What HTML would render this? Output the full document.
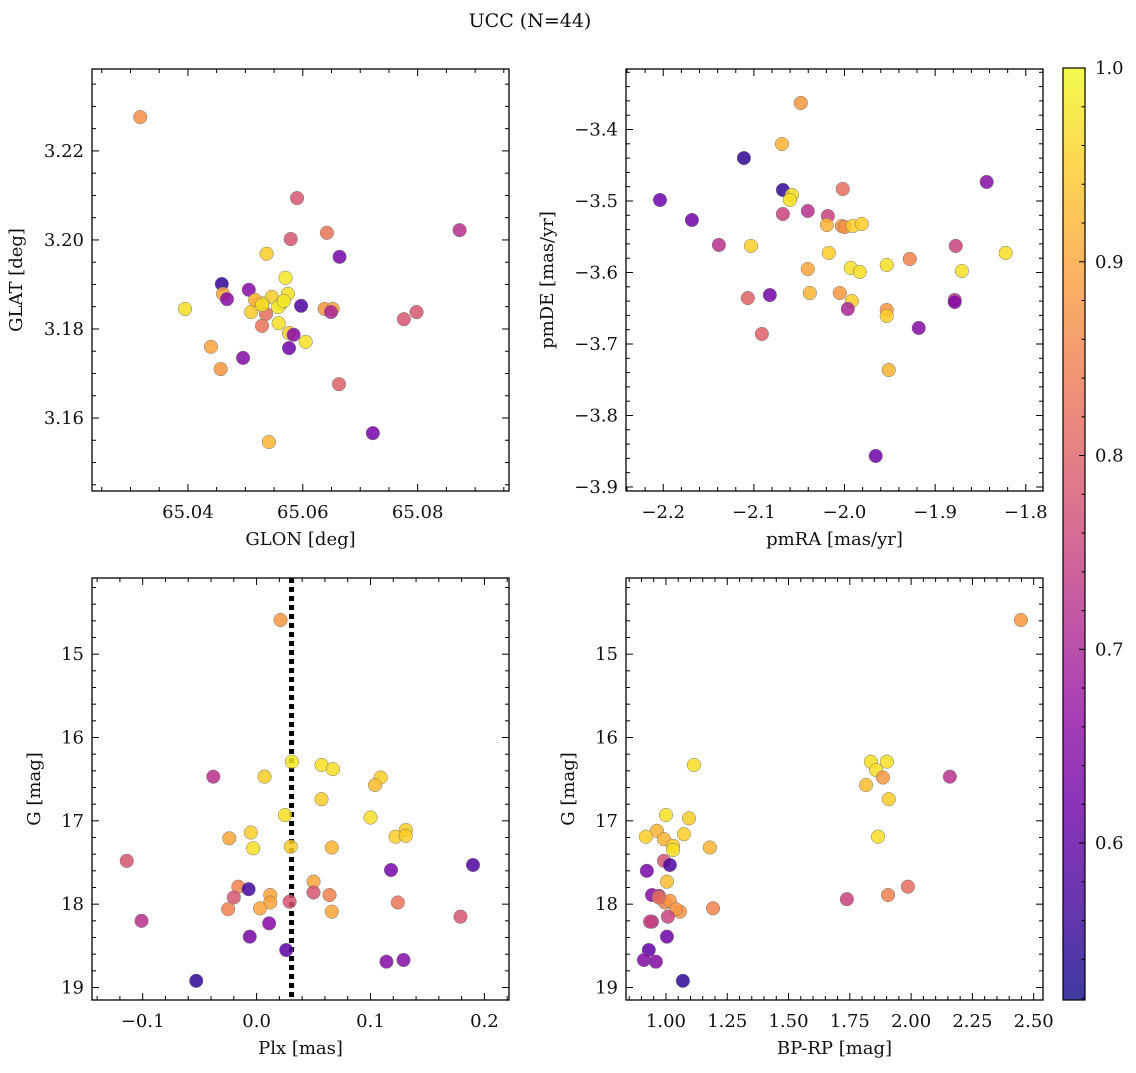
<!DOCTYPE html>
<html><head><meta charset="utf-8"><style>
body{margin:0;background:#fff}
svg text{font-family:"DejaVu Serif","Liberation Serif",serif;fill:#111}
</style></head><body>
<svg id="fig" width="1136" height="1068" viewBox="0 0 1136 1068" xmlns="http://www.w3.org/2000/svg">
<defs><linearGradient id="cbg" x1="0" y1="1" x2="0" y2="0"></linearGradient></defs>
<text x="530" y="27" font-size="19" text-anchor="middle">UCC (N=44)</text>
</svg>
<script>
// ---- data ----
const glon=[65.0317,65.0590,65.0873,65.0642,65.0579,65.0537,65.0664,65.0570,65.0459,65.0461,65.0574,65.0506,65.0468,65.0546,65.0395,65.0597,65.0530,65.0563,65.0522,65.0557,65.0567,65.0638,65.0652,65.0649,65.0510,65.0536,65.0529,65.0558,65.0776,65.0798,65.0576,65.0584,65.0605,65.0440,65.0576,65.0496,65.0457,65.0663,65.0541,65.0722,65.0517,65.0529];
const glat=[3.2276,3.2094,3.2022,3.2016,3.2002,3.1969,3.1962,3.1915,3.1901,3.1879,3.1879,3.1888,3.1867,3.1872,3.1845,3.1852,3.1858,3.1858,3.1856,3.1849,3.1863,3.1845,3.1845,3.1838,3.1838,3.1834,3.1807,3.1813,3.1822,3.1838,3.1791,3.1787,3.1771,3.1760,3.1757,3.1735,3.1710,3.1676,3.1546,3.1566,3.1865,3.1854];
const probA=[.87,.78,.72,.83,.78,.95,.63,.98,.55,.9,.97,.65,.65,.95,.97,.58,.98,.98,.9,.98,.98,.88,.9,.7,.95,.82,.83,.97,.78,.78,.95,.65,.97,.9,.62,.65,.88,.8,.92,.63,.92,.97];
const pmra=[-2.0482,-2.0690,-2.1110,-2.2036,-2.1684,-2.0680,-2.0581,-2.0603,-2.0019,-1.8431,-2.1386,-2.0405,-2.0680,-2.0184,-2.0195,-2.0030,-1.9997,-1.9909,-1.9810,-2.1033,-2.0173,-1.8773,-1.9280,-1.9931,-1.9832,-1.9534,-1.8705,-1.8222,-2.0405,-2.0383,-2.0052,-1.9920,-1.8784,-1.8784,-1.9534,-1.9534,-2.1067,-2.0824,-1.9964,-1.9181,-2.0912,-1.9512,-1.9656];
const pmde=[-3.3629,-3.4203,-3.4399,-3.4986,-3.5266,-3.4846,-3.4916,-3.4986,-3.4832,-3.4734,-3.5615,-3.5140,-3.5182,-3.5210,-3.5336,-3.5350,-3.5364,-3.5350,-3.5322,-3.5629,-3.5727,-3.5629,-3.5811,-3.5937,-3.5993,-3.5895,-3.5979,-3.5727,-3.5951,-3.6287,-3.6287,-3.6399,-3.6385,-3.6413,-3.6524,-3.6608,-3.6357,-3.6315,-3.6510,-3.6776,-3.6860,-3.7364,-3.8566];
const probB=[.88,.92,.55,.62,.62,.55,.97,.97,.82,.65,.72,.72,.75,.75,.92,.87,.87,.95,.95,.95,.95,.75,.85,.97,.97,.97,.97,.97,.9,.92,.88,.95,.72,.65,.88,.95,.8,.63,.7,.65,.8,.92,.62];
const plx=[.021,.031,.057,.067,-.038,.007,.109,.104,.057,.025,.100,.131,.122,.131,-.005,-.024,.030,.066,-.003,-.114,.118,.190,.050,-.016,-.007,.064,.050,-.020,.012,.012,-.025,.003,.029,.066,.124,.179,-.101,.011,-.006,.026,.114,.129,-.053];
const gmagC=[14.59,16.29,16.33,16.38,16.47,16.47,16.48,16.57,16.74,16.93,16.96,17.11,17.19,17.18,17.14,17.21,17.31,17.32,17.33,17.48,17.59,17.53,17.73,17.79,17.82,17.89,17.86,17.92,17.89,17.98,18.06,18.05,17.97,18.09,17.98,18.15,18.20,18.23,18.39,18.55,18.69,18.67,18.92];
const probC=[.88,.98,.97,.97,.72,.95,.95,.93,.95,.97,.97,.95,.95,.95,.95,.9,.95,.92,.97,.78,.63,.58,.9,.85,.57,.85,.78,.78,.9,.9,.85,.9,.78,.9,.83,.78,.72,.65,.63,.6,.65,.65,.55];
const bprp=[2.448,1.114,1.836,1.901,1.857,1.885,2.158,1.816,1.909,1.000,1.094,0.963,1.073,0.918,1.865,0.992,1.029,1.029,1.179,0.992,1.016,0.922,1.004,0.943,0.971,1.987,1.906,0.996,1.016,0.971,1.738,1.192,1.057,1.041,1.008,0.943,0.935,1.004,0.930,0.910,0.959,1.069];
const gmagD=[14.59,16.33,16.29,16.29,16.39,16.48,16.47,16.57,16.74,16.93,16.97,17.12,17.16,17.19,17.19,17.22,17.30,17.35,17.32,17.48,17.53,17.60,17.73,17.89,17.90,17.79,17.89,17.98,17.96,17.92,17.94,18.05,18.09,18.06,18.15,18.21,18.21,18.39,18.55,18.67,18.69,18.92];
const probD=[.88,.97,.97,.97,.97,.88,.72,.93,.95,.97,.95,.92,.95,.95,.97,.92,.95,.97,.92,.78,.58,.63,.93,.65,.72,.82,.85,.85,.88,.82,.75,.85,.88,.88,.75,.72,.75,.62,.6,.65,.65,.55];
const plxLine=0.0307;
const cbMin=0.519, cbMax=1.0;
const cbTicks=[0.6,0.7,0.8,0.9,1.0];

const NS="http://www.w3.org/2000/svg";
const svg=document.getElementById('fig');
function el(tag,attrs,parent){const e=document.createElementNS(NS,tag);for(const k in attrs)e.setAttribute(k,attrs[k]);(parent||svg).appendChild(e);return e;}
const stops=[[13,8,135],[65,4,157],[106,0,168],[143,13,164],[177,42,144],[204,71,120],[225,100,98],[242,132,75],[252,166,54],[252,206,37],[240,249,33]];
function plasma(t){t=Math.max(0,Math.min(1,t));const f=t*10,i=Math.min(9,Math.floor(f)),u=f-i;const a=stops[i],b=stops[i+1];return 'rgb('+a.map((v,k)=>Math.round(v+(b[k]-v)*u)).join(',')+')';}
function pcol(p){return plasma((p-cbMin)/(cbMax-cbMin));}
const FS=18;

function panel(o){
  const g=el('g',{});
  
  
  const X=v=>o.x0+(v-o.xmin)/(o.xmax-o.xmin)*(o.x1-o.x0);
  const Y=v=>o.yinv? o.y0+(v-o.ymin)/(o.ymax-o.ymin)*(o.y1-o.y0) : o.y1-(v-o.ymin)/(o.ymax-o.ymin)*(o.y1-o.y0);
  if(o.vline!==undefined){
    const l=el('line',{x1:X(o.vline),x2:X(o.vline),y1:o.y0,y2:o.y1,stroke:'#000','stroke-width':5,'stroke-dasharray':'5,4'},g);
    
    
  }
  for(let i=0;i<o.xs.length&&i<o.ys.length;i++){
    const c=el('circle',{cx:X(o.xs[i]),cy:Y(o.ys[i]),r:6.8,fill:pcol(o.ps[i]),'fill-opacity':0.85,stroke:'#777','stroke-width':0.5},g);
    
    
  }
  const ax=el('rect',{x:o.x0,y:o.y0,width:o.x1-o.x0,height:o.y1-o.y0,fill:'none',stroke:'#000','stroke-width':1.3},g);
  
  
  const eps=1e-9;
  for(let k=Math.ceil(o.xmin/o.xminor-eps);k*o.xminor<=o.xmax+eps;k++){
    const v=k*o.xminor;const x=X(v);const maj=Math.abs(v/o.xmajor-Math.round(v/o.xmajor))<1e-6;const L=maj?7:4;
    el('line',{x1:x,x2:x,y1:o.y1,y2:o.y1-L,stroke:'#000','stroke-width':1},g);
    el('line',{x1:x,x2:x,y1:o.y0,y2:o.y0+L,stroke:'#000','stroke-width':1},g);
    if(maj){const t=el('text',{x:x,y:o.y1+27,'font-size':FS,'text-anchor':'middle'},g);t.textContent=o.xfmt(v);
      }
  }
  for(let k=Math.ceil(o.ymin/o.yminor-eps);k*o.yminor<=o.ymax+eps;k++){
    const v=k*o.yminor;const y=Y(v);const maj=Math.abs(v/o.ymajor-Math.round(v/o.ymajor))<1e-6;const L=maj?7:4;
    el('line',{x1:o.x0,x2:o.x0+L,y1:y,y2:y,stroke:'#000','stroke-width':1},g);
    el('line',{x1:o.x1,x2:o.x1-L,y1:y,y2:y,stroke:'#000','stroke-width':1},g);
    if(maj){const t=el('text',{x:o.x0-8,y:y+6,'font-size':FS,'text-anchor':'end'},g);t.textContent=o.yfmt(v);
      }
  }
  const xl=el('text',{x:(o.x0+o.x1)/2,y:o.y1+54,'font-size':FS,'text-anchor':'middle'},g);xl.textContent=o.xlabel;
  
  const yx=o.ylx, yy=(o.y0+o.y1)/2;
  const yl=el('text',{x:yx,y:yy,'font-size':FS,'text-anchor':'middle',transform:`rotate(-90 ${yx} ${yy})`},g);yl.textContent=o.ylabel;
  
}
const f1=v=>{const r=Math.round(v*10)/10;return (r<0?'\u2212':'')+Math.abs(r).toFixed(1);};
panel({name:'sky-position-panel',x0:92,x1:509,y0:69,y1:491,xmin:65.0233,xmax:65.0959,ymin:3.1436,ymax:3.2384,
  xmajor:0.02,xminor:0.005,ymajor:0.02,yminor:0.005,xfmt:v=>v.toFixed(2),yfmt:v=>v.toFixed(2),
  xs:glon,ys:glat,ps:probA,xlabel:'GLON [deg]',ylabel:'GLAT [deg]',ylx:22});
panel({name:'proper-motion-panel',x0:626,x1:1043,y0:69,y1:491,xmin:-2.2411,xmax:-1.781,ymin:-3.9056,ymax:-3.3154,
  xmajor:0.1,xminor:0.02,ymajor:0.1,yminor:0.02,xfmt:f1,yfmt:f1,
  xs:pmra,ys:pmde,ps:probB,xlabel:'pmRA [mas/yr]',ylabel:'pmDE [mas/yr]',ylx:553});
panel({name:'parallax-mag-panel',x0:92,x1:509,y0:578,y1:1000,xmin:-0.1445,xmax:0.2216,ymin:14.086,ymax:19.15,yinv:true,
  xmajor:0.1,xminor:0.02,ymajor:1,yminor:0.2,xfmt:f1,yfmt:v=>String(Math.round(v)),
  xs:plx,ys:gmagC,ps:probC,xlabel:'Plx [mas]',ylabel:'G [mag]',ylx:40,vline:plxLine});
panel({name:'color-mag-panel',x0:626,x1:1043,y0:578,y1:1000,xmin:0.837,xmax:2.538,ymin:14.086,ymax:19.15,yinv:true,
  xmajor:0.25,xminor:0.05,ymajor:1,yminor:0.2,xfmt:v=>v.toFixed(2),yfmt:v=>String(Math.round(v)),
  xs:bprp,ys:gmagD,ps:probD,xlabel:'BP-RP [mag]',ylabel:'G [mag]',ylx:574});

// colorbar
const grad=document.getElementById('cbg');
for(let i=0;i<=10;i++){el('stop',{offset:i/10,'stop-color':plasma(i/10)},grad);}
const cb=el('g',{});


const cx0=1063,cx1=1085,cy0=68,cy1=1000;
el('rect',{x:cx0,y:cy0,width:cx1-cx0,height:cy1-cy0,fill:'url(#cbg)','fill-opacity':0.8},cb);
el('rect',{x:cx0,y:cy0,width:cx1-cx0,height:cy1-cy0,fill:'none',stroke:'#000','stroke-width':1.2},cb);
const CY=v=>cy1-(v-cbMin)/(cbMax-cbMin)*(cy1-cy0);
for(let k=Math.ceil(cbMin/0.02);k*0.02<=cbMax+1e-9;k++){
  const v=k*0.02,y=CY(v);const maj=k%5===0;
  el('line',{x1:cx1,x2:cx1-(maj?6:3.5),y1:y,y2:y,stroke:'#000','stroke-width':1},cb);
}
cbTicks.forEach(v=>{const t=el('text',{x:cx1+10,y:CY(v)+6,'font-size':FS},cb);t.textContent=v.toFixed(1);
  });
</script>
</body></html>
